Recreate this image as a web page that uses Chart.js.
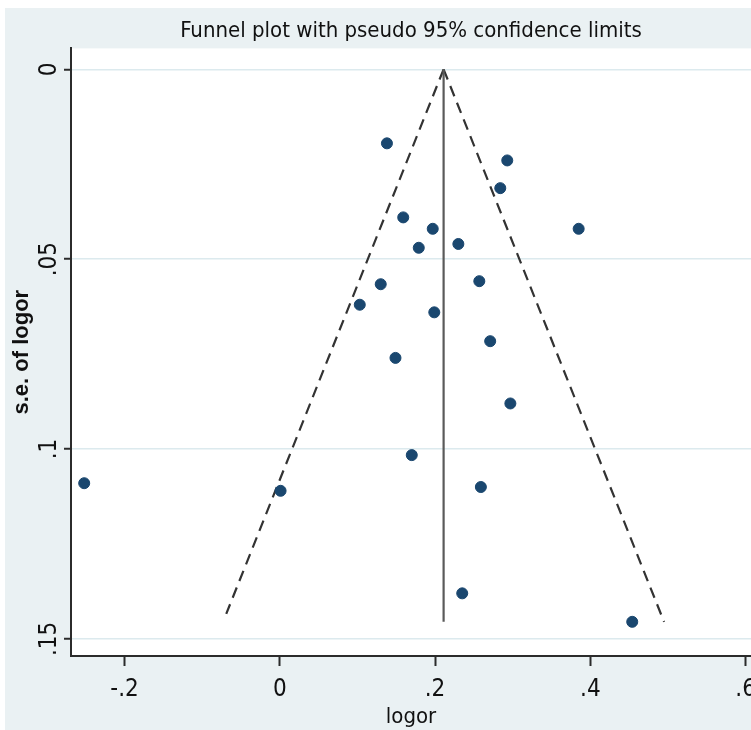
<!DOCTYPE html>
<html>
<head>
<meta charset="utf-8">
<script src="https://cdn.jsdelivr.net/npm/chart.js@4.4.1/dist/chart.umd.min.js"></script>
<style>
  html, body { margin: 0; padding: 0; background: #ffffff; }
  #wrap { width: 751px; height: 730px; }
</style>
</head>
<body>
<div id="wrap"><canvas id="c" width="751" height="730"></canvas></div>
<script>
// ---- data ----
const studyLogOR = [-0.252, 0.001, 0.138, 0.293, 0.284, 0.159, 0.197, 0.385, 0.179, 0.230, 0.130, 0.257, 0.103, 0.199, 0.271, 0.149, 0.297, 0.170, 0.259, 0.235, 0.454];
const studySE    = [0.109, 0.111, 0.0195, 0.024, 0.0313, 0.039, 0.042, 0.042, 0.047, 0.046, 0.0566, 0.0558, 0.062, 0.064, 0.0716, 0.076, 0.088, 0.1016, 0.110, 0.138, 0.1455];
const centerLineX = [0.211, 0.211];
const centerLineY = [0, 0.1455];
const leftLimitX  = [0.211, -0.069];
const leftLimitY  = [0, 0.1434];
const rightLimitX = [0.211, 0.495];
const rightLimitY = [0, 0.1455];
const xTickValues = [-0.2, 0, 0.2, 0.4, 0.6];
const yTickValues = [0, 0.05, 0.1, 0.15];
const titleText = 'Funnel plot with pseudo 95% confidence limits';
const xTitle = 'logor';
const yTitle = 's.e. of logor';

const pts = (xs, ys) => xs.map((x, i) => ({ x: x, y: ys[i] }));
const fmt = v => {
  if (Math.abs(v) < 1e-9) return '0';
  let s = String(+v.toFixed(3));
  return s.replace(/^(-?)0\./, '$1.');
};

const NARROW = "'Liberation Sans Narrow', 'Arial Narrow', 'DejaVu Sans Condensed', sans-serif";

const bgPlugin = {
  id: 'bg',
  beforeDraw(chart) {
    const ctx = chart.ctx, a = chart.chartArea;
    ctx.save();
    ctx.fillStyle = '#ffffff';
    ctx.fillRect(0, 0, chart.width, chart.height);
    ctx.fillStyle = '#eaf1f3';
    ctx.fillRect(5, 8, chart.width - 5, chart.height - 8);
    ctx.fillStyle = '#ffffff';
    ctx.fillRect(a.left, a.top, a.right - a.left, a.bottom - a.top);
    ctx.restore();
  }
};

new Chart(document.getElementById('c'), {
  type: 'scatter',
  data: {
    datasets: [
      {
        label: 'studies',
        data: pts(studyLogOR, studySE),
        backgroundColor: '#1a476f',
        borderColor: '#1a476f',
        pointRadius: 5.5,
        pointHoverRadius: 5.5
      },
      {
        label: 'center',
        data: pts(centerLineX, centerLineY),
        showLine: true,
        borderColor: '#5a5a5a',
        borderWidth: 2.2,
        pointRadius: 0
      },
      {
        label: 'lower',
        data: pts(leftLimitX, leftLimitY),
        showLine: true,
        borderColor: '#333333',
        borderWidth: 2.2,
        borderDash: [11, 7],
        pointRadius: 0
      },
      {
        label: 'upper',
        data: pts(rightLimitX, rightLimitY),
        showLine: true,
        borderColor: '#333333',
        borderWidth: 2.2,
        borderDash: [11, 7],
        pointRadius: 0
      }
    ]
  },
  options: {
    responsive: false,
    animation: false,
    events: [],
    layout: { autoPadding: false, padding: { left: 5, top: 8, right: 0, bottom: 0 } },
    plugins: {
      legend: { display: false },
      tooltip: { enabled: false },
      title: {
        display: true,
        fullSize: false,
        text: titleText,
        color: '#111111',
        font: { family: NARROW, size: 22, weight: 'normal' },
        padding: { top: 10, bottom: 4 }
      }
    },
    scales: {
      x: {
        type: 'linear',
        min: -0.269,
        max: 0.607,
        afterBuildTicks(s) { s.ticks = xTickValues.map(v => ({ value: v })); },
        afterFit(s) { s.height = 74; s.paddingLeft = 0; s.paddingRight = 0; },
        border: { display: true, color: '#2b2b2b', width: 2 },
        grid: { drawOnChartArea: false, drawTicks: true, tickLength: 10, tickColor: '#2b2b2b', tickWidth: 2 },
        ticks: {
          callback: v => fmt(v),
          color: '#111111',
          font: { family: NARROW, size: 24 },
          padding: 9,
          maxRotation: 0,
          minRotation: 0,
          autoSkip: false
        },
        title: {
          display: true,
          text: xTitle,
          color: '#111111',
          font: { family: NARROW, size: 22 },
          padding: { top: -13, bottom: 0 }
        }
      },
      y: {
        type: 'linear',
        reverse: true,
        min: -0.0055,
        max: 0.1545,
        afterBuildTicks(s) { s.ticks = yTickValues.map(v => ({ value: v })); },
        afterFit(s) { s.width = 66; },
        border: { display: true, color: '#2b2b2b', width: 2 },
        grid: { drawOnChartArea: true, color: '#dceaee', lineWidth: 1.5, drawTicks: true, tickLength: 7, tickColor: '#2b2b2b', tickWidth: 2 },
        ticks: {
          callback: v => fmt(v),
          color: '#111111',
          font: { family: NARROW, size: 24 },
          padding: -3,
          minRotation: 90,
          maxRotation: 90,
          crossAlign: 'center',
          autoSkip: false
        },
        title: {
          display: true,
          text: yTitle,
          color: '#111111',
          font: { family: "'Liberation Sans', Arial, sans-serif", size: 22, weight: 'bold' },
          padding: { top: 4, bottom: 0 }
        }
      }
    }
  },
  plugins: [bgPlugin]
});
</script>
</body>
</html>
